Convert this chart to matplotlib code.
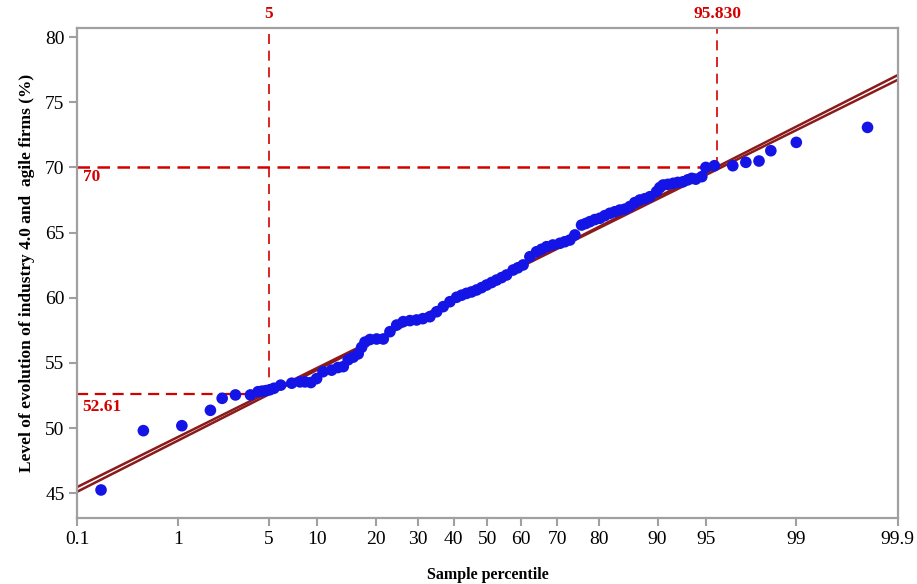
import math
import numpy as np
import matplotlib
matplotlib.use("Agg")
import matplotlib.pyplot as plt

# ---------------- data ----------------
sample_pct = [0.181, 0.479, 1.07, 1.85, 2.29, 2.89, 3.72, 4.21, 4.48, 4.77, 5.08, 5.40,
              5.98, 7.03, 7.91, 8.47, 9.19, 9.92, 10.79, 12.04, 13.03, 13.89, 14.73,
              15.62, 16.53, 17.18, 17.83, 18.83, 20.21, 21.65, 23.15, 24.73, 26.31,
              27.99, 29.70, 31.35, 33.25, 35.12, 36.96, 38.89, 40.83, 42.31, 43.77,
              45.26, 46.77, 48.25, 49.76, 51.26, 52.75, 54.26, 55.75, 57.69, 59.08,
              60.60, 62.55, 64.43, 65.83, 67.21, 68.90, 70.74, 72.01, 73.27, 74.50,
              76.09, 77.07, 77.99, 79.08, 80.15, 81.17, 82.17, 83.14, 84.06, 84.97,
              85.83, 86.65, 87.45, 88.22, 88.94, 89.87, 90.29, 90.71, 91.29, 91.91,
              92.42, 92.97, 93.44, 93.81, 94.17, 94.68, 95.00, 95.63, 96.77, 97.42,
              97.96, 98.36, 99.00, 99.79]
sample_val = [45.26, 49.81, 50.19, 51.37, 52.29, 52.55, 52.55, 52.80, 52.84, 52.88, 52.95, 53.06,
              53.30, 53.45, 53.55, 53.55, 53.50, 53.80, 54.33, 54.45, 54.65, 54.72, 55.25,
              55.45, 55.70, 56.20, 56.60, 56.80, 56.84, 56.84, 57.40, 57.91, 58.17,
              58.25, 58.30, 58.40, 58.55, 58.93, 59.32, 59.70, 60.04, 60.20, 60.34,
              60.45, 60.60, 60.78, 60.98, 61.17, 61.36, 61.55, 61.75, 62.13, 62.30,
              62.52, 63.15, 63.53, 63.72, 63.92, 64.05, 64.18, 64.30, 64.43, 64.82,
              65.58, 65.70, 65.84, 66.00, 66.10, 66.30, 66.48, 66.60, 66.73, 66.80,
              67.00, 67.30, 67.50, 67.60, 67.75, 68.14, 68.45, 68.65, 68.70, 68.78,
              68.85, 68.90, 69.05, 69.16, 69.10, 69.29, 70.00, 70.13, 70.13, 70.39,
              70.49, 71.28, 71.92, 73.07]

fit_pct = [0.1, 99.9]
fit_line_a = [45.12, 77.08]
fit_line_b = [45.48, 76.72]

ref_pct = [5, 95.830]
ref_val = [52.61, 70]
ref_pct_labels = ["5", "95.830"]
ref_val_labels = ["52.61", "70"]

xticks = [0.1, 1, 5, 10, 20, 30, 40, 50, 60, 70, 80, 90, 95, 99, 99.9]
xtick_labels = ["0.1", "1", "5", "10", "20", "30", "40", "50", "60", "70", "80", "90", "95", "99", "99.9"]
yticks = [45, 50, 55, 60, 65, 70, 75, 80]

# ---------------- probit scale helpers ----------------
_a = [-3.969683028665376e+01, 2.209460984245205e+02, -2.759285104469687e+02,
      1.383577518672690e+02, -3.066479806614716e+01, 2.506628277459239e+00]
_b = [-5.447609879822406e+01, 1.615858368580409e+02, -1.556989798598866e+02,
      6.680131188771972e+01, -1.328068155288572e+01]
_c = [-7.784894002430293e-03, -3.223964580411365e-01, -2.400758277161838e+00,
      -2.549732539343734e+00, 4.374664141464968e+00, 2.938163982698783e+00]
_d = [7.784695709041462e-03, 3.224671290700398e-01, 2.445134137142996e+00,
      3.754408460310120e+00]


def norm_ppf(p):
    p = np.clip(np.asarray(p, dtype=float), 1e-12, 1 - 1e-12)
    plow = 0.02425
    out = np.empty_like(p)
    lo = p < plow
    hi = p > 1 - plow
    mid = ~(lo | hi)
    q = np.sqrt(-2 * np.log(p[lo]))
    out[lo] = (((((_c[0]*q+_c[1])*q+_c[2])*q+_c[3])*q+_c[4])*q+_c[5]) / \
              ((((_d[0]*q+_d[1])*q+_d[2])*q+_d[3])*q+1)
    q = np.sqrt(-2 * np.log(1 - p[hi]))
    out[hi] = -(((((_c[0]*q+_c[1])*q+_c[2])*q+_c[3])*q+_c[4])*q+_c[5]) / \
               ((((_d[0]*q+_d[1])*q+_d[2])*q+_d[3])*q+1)
    q = p[mid] - 0.5
    r = q * q
    out[mid] = (((((_a[0]*r+_a[1])*r+_a[2])*r+_a[3])*r+_a[4])*r+_a[5])*q / \
               (((((_b[0]*r+_b[1])*r+_b[2])*r+_b[3])*r+_b[4])*r+1)
    return out


_erf = np.vectorize(math.erf, otypes=[float])


def forward(x):
    return norm_ppf(np.asarray(x, dtype=float) / 100.0)


def inverse(z):
    z = np.asarray(z, dtype=float)
    return 100.0 * 0.5 * (1 + _erf(z / math.sqrt(2)))


# ---------------- figure ----------------
plt.rcParams['font.family'] = ['Liberation Serif', 'DejaVu Serif']

fig = plt.figure(figsize=(9.17, 5.84), dpi=100)
ax = fig.add_axes([0.084, 0.113, 0.895, 0.839])
ax.set_xscale('function', functions=(forward, inverse))
ax.set_xlim(0.1, 99.9)
ax.set_ylim(43.11, 80.69)

red = '#d40000'
dark_red = '#8b1a1a'
blue = '#1414e6'

# reference dashed lines
ymax = 80.69
ax.plot([ref_pct[0], ref_pct[0]], [ref_val[0], ymax], color=red, lw=1.2,
        dashes=(6, 4), zorder=1)
ax.plot([0.1, ref_pct[0]], [ref_val[0], ref_val[0]], color=red, lw=1.6,
        dashes=(5, 3), zorder=1)
ax.plot([ref_pct[1], ref_pct[1]], [ref_val[1], ymax], color=red, lw=1.2,
        dashes=(6, 4), zorder=1)
ax.plot([0.1, ref_pct[1]], [ref_val[1], ref_val[1]], color=red, lw=1.8,
        dashes=(5, 3), zorder=1)

# fitted lines
ax.plot(fit_pct, fit_line_a, color=dark_red, lw=1.8, zorder=2, solid_capstyle='butt')
ax.plot(fit_pct, fit_line_b, color=dark_red, lw=1.8, zorder=2, solid_capstyle='butt')

# sample points
ax.scatter(sample_pct, sample_val, s=70, color=blue, edgecolors='none', zorder=3)

# annotation texts
for pct, lab in zip(ref_pct, ref_pct_labels):
    ax.annotate(lab, xy=(pct, ymax), xytext=(0, 4), textcoords='offset points',
                ha='center', va='bottom', color=red, fontsize=12.5, fontweight='bold',
                annotation_clip=False)
ax.annotate(ref_val_labels[0], xy=(0.1, ref_val[0]), xytext=(4, -3.5),
            textcoords='offset points', ha='left', va='top', color=red,
            fontsize=12.5, fontweight='bold')
ax.annotate(ref_val_labels[1], xy=(0.1, ref_val[1]), xytext=(4, -1.5),
            textcoords='offset points', ha='left', va='top', color=red,
            fontsize=12.5, fontweight='bold')

# ticks and spines
ax.set_xticks(xticks)
ax.set_xticklabels(xtick_labels)
ax.xaxis.set_minor_locator(matplotlib.ticker.NullLocator())
ax.set_yticks(yticks)
ax.tick_params(axis='both', which='major', labelsize=14, length=6, width=1.5,
               color='#a0a0a0', direction='out', pad=3)
for sp in ax.spines.values():
    sp.set_color('#a0a0a0')
    sp.set_linewidth(1.6)

ax.set_xlabel('Sample percentile', fontsize=11.5, fontweight='bold', labelpad=14)
ax.set_ylabel('Level of evolution of industry 4.0 and  agile firms (%)',
              fontsize=12.5, fontweight='bold', labelpad=7)

fig.savefig('out.png', dpi=100)
